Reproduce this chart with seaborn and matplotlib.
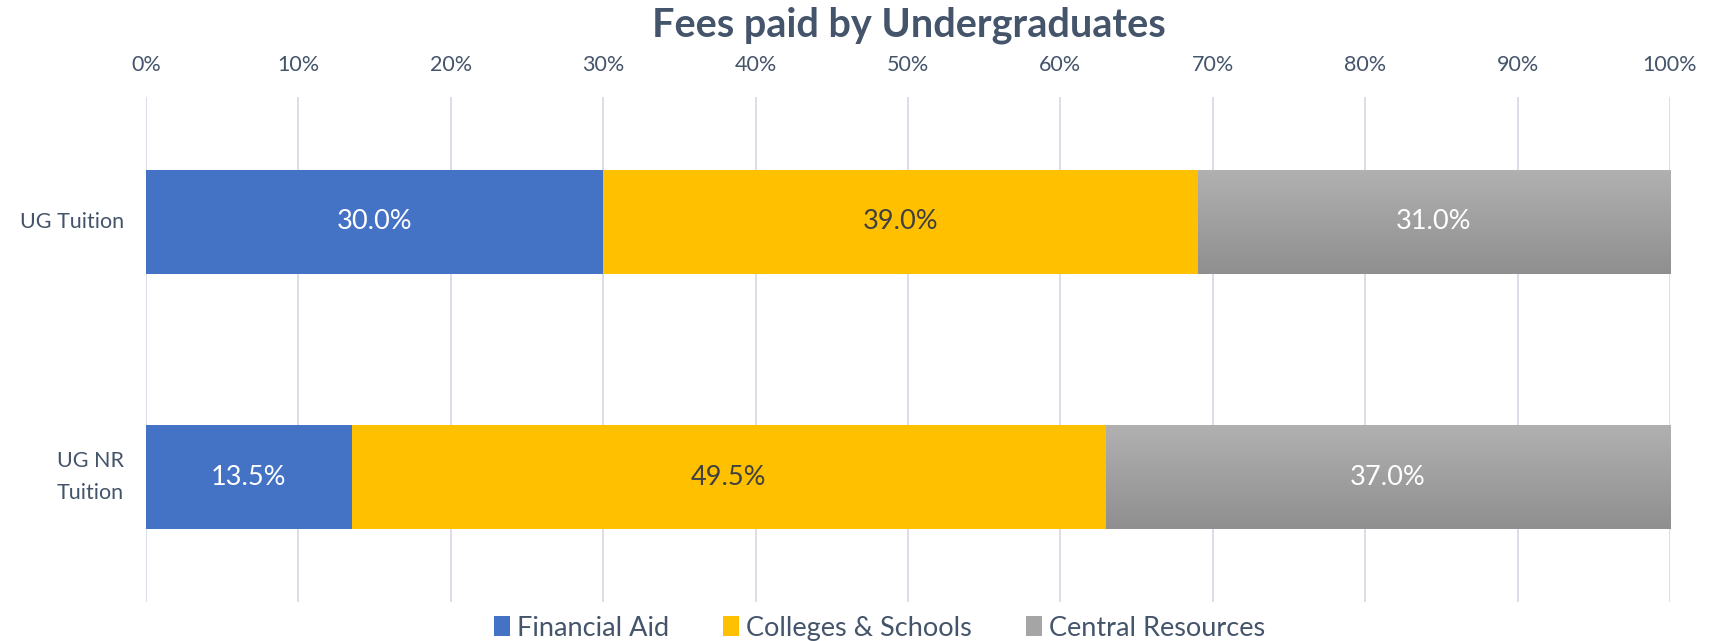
import numpy as np
import pandas as pd
import matplotlib
matplotlib.use("Agg")
import matplotlib.pyplot as plt
import seaborn as sns
from matplotlib.patches import Patch

categories = ["UG Tuition", "UG NR\nTuition"]
series_names = ["Financial Aid", "Colleges & Schools", "Central Resources"]
financial_aid = [30.0, 13.5]
colleges_schools = [39.0, 49.5]
central_resources = [31.0, 37.0]
x_ticks = [0, 10, 20, 30, 40, 50, 60, 70, 80, 90, 100]
x_tick_labels = [f"{t}%" for t in x_ticks]

colors = ["#4472C4", "#FFC000", "#A5A5A5"]
label_colors = ["white", "#404040", "white"]
text_color = "#44546A"

sns.set_theme(style="white")
plt.rcParams["font.family"] = ["Lato", "DejaVu Sans"]

df = pd.DataFrame({
    "cat": categories,
    "fa": financial_aid,
    "cs": colleges_schools,
    "cr": central_resources,
})
df["c1"] = df["fa"]
df["c2"] = df["fa"] + df["cs"]
df["c3"] = df["c2"] + df["cr"]

fig = plt.figure(figsize=(17.24, 6.41), dpi=100)
ax = fig.add_axes([0.0847, 0.0608, 0.9687 - 0.0847, 0.8487 - 0.0608])

bar_w = 0.41
# stacked via cumulative overlays
sns.barplot(data=df, x="c3", y="cat", orient="h", color=colors[2], width=bar_w,
            ax=ax, zorder=2, linewidth=0, saturation=1)
gray_patches = list(ax.patches)
sns.barplot(data=df, x="c2", y="cat", orient="h", color=colors[1], width=bar_w,
            ax=ax, zorder=3, linewidth=0, saturation=1)
sns.barplot(data=df, x="c1", y="cat", orient="h", color=colors[0], width=bar_w,
            ax=ax, zorder=4, linewidth=0, saturation=1)

# gradient on gray segments
grad = np.linspace(0, 1, 256).reshape(-1, 1)
cmap = matplotlib.colors.LinearSegmentedColormap.from_list("g", ["#B1B1B1", "#8F8F8F"])
for p in gray_patches:
    x0, y0 = p.get_x(), p.get_y()
    w, h = p.get_width(), p.get_height()
    im = ax.imshow(grad, cmap=cmap, aspect="auto", extent=[x0, x0 + w, y0 + h, y0],
                   zorder=2.5, origin="upper")
    im.set_clip_path(p)

ax.set_xlim(0, 100)
ax.set_ylim(1.49, -0.49)
ax.set_xticks(x_ticks)
ax.set_xticklabels(x_tick_labels)
ax.xaxis.tick_top()
ax.tick_params(axis="x", length=0, pad=16, labelsize=15.5, labelcolor=text_color)
ax.tick_params(axis="y", length=0, pad=16, labelsize=15.5, labelcolor=text_color)
for lab in ax.get_yticklabels():
    lab.set_horizontalalignment("right")
    lab.set_verticalalignment("center")
    lab.set_multialignment("center")
    lab.set_linespacing(1.75)
ax.set_xlabel("")
ax.set_ylabel("")
for s in ax.spines.values():
    s.set_visible(False)
ax.grid(axis="x", color="#D9DEE6", linewidth=1.4, zorder=0)
ax.set_axisbelow(True)

# data labels
seg_vals = [financial_aid, colleges_schools, central_resources]
starts = [np.zeros(len(categories)), np.array(financial_aid),
          np.array(financial_aid) + np.array(colleges_schools)]
for vals, st, lc in zip(seg_vals, starts, label_colors):
    for i, v in enumerate(vals):
        ax.text(st[i] + v / 2, i, f"{v:.1f}%", ha="center", va="center",
                color=lc, fontsize=19.5, zorder=6)

fig.suptitle("Fees paid by Undergraduates", x=0.527, y=0.99, fontsize=28.5,
             fontweight="bold", color=text_color)

handles = [Patch(facecolor=c, edgecolor="none") for c in colors]
leg = fig.legend(handles, series_names, loc="center", bbox_to_anchor=(0.51, 0.02),
                 ncol=3, frameon=False, fontsize=19.5, handlelength=0.6,
                 handleheight=0.75, handletextpad=0.25, columnspacing=2.0)
for t in leg.get_texts():
    t.set_color(text_color)

fig.savefig("out.png", dpi=100)
